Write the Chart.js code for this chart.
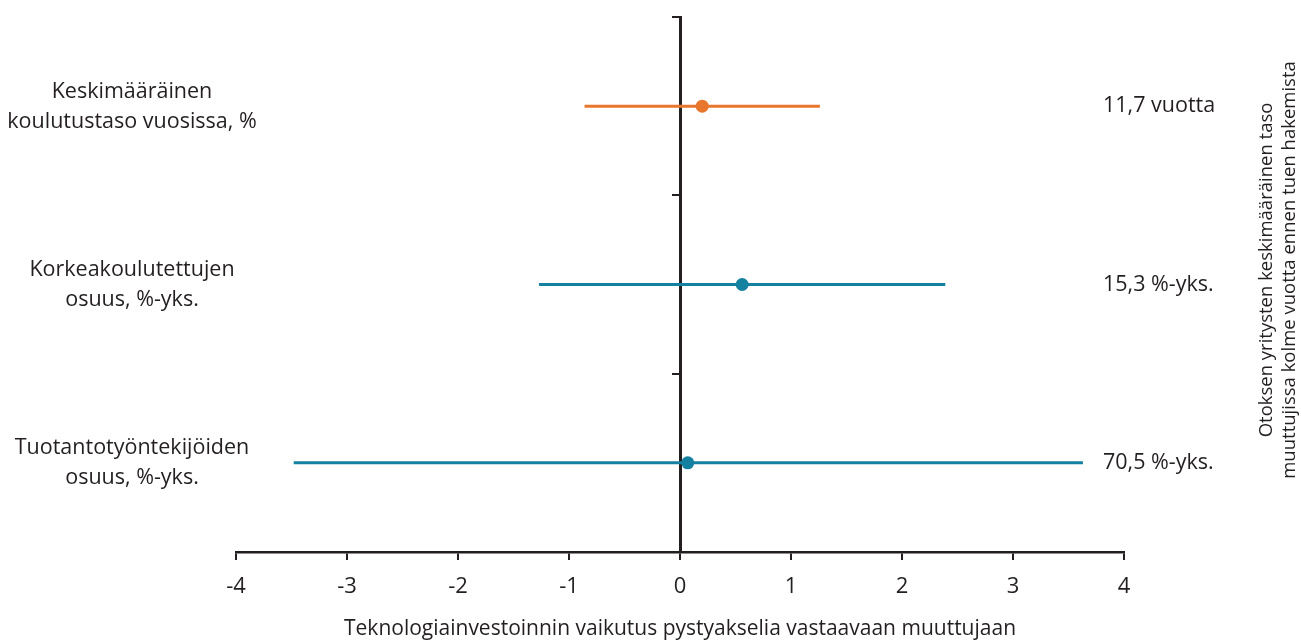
<!DOCTYPE html>
<html lang="fi">
<head>
  <meta charset="UTF-8">
  <title>Teknologiainvestoinnin vaikutus</title>
  <script src="https://cdn.jsdelivr.net/npm/chart.js"></script>
  <style>
    body { margin: 0; background: #fff; }
    .wrap { width: 1301px; height: 641px; position: relative; }
  </style>
</head>
<body>
<div class="wrap"><canvas id="kuva"></canvas></div>

<script>
// muuttujat ylhäältä alas
const categories = [
  ["Keskimääräinen", "koulutustaso vuosissa, %"],
  ["Korkeakoulutettujen", "osuus, %-yks."],
  ["Tuotantotyöntekijöiden", "osuus, %-yks."]
];
const estimates = [0.2, 0.56, 0.07];
const lowerBounds = [-0.86, -1.27, -3.48];
const upperBounds = [1.26, 2.39, 3.63];
const sampleMeans = ["11,7 vuotta", "15,3 %-yks.", "70,5 %-yks."];
const seriesColors = ["#E8772E", "#1481A1", "#1481A1"];
const xTicks = [-4, -3, -2, -1, 0, 1, 2, 3, 4];
const xTitle = "Teknologiainvestoinnin vaikutus pystyakselia vastaavaan muuttujaan";
const rightTitle = ["Otoksen yritysten keskimääräinen taso", "muuttujissa kolme vuotta ennen tuen hakemista"];

const ink = "#231f20";
const fontName = "'Open Sans', 'Liberation Sans', sans-serif";

// kategorian paikka pystyakselilla: ylin = 2.5, keskimmäinen = 1.5, alin = 0.5
const rowPos = i => categories.length - 0.5 - i;

const datasets = [{
  label: "estimaatti",
  data: estimates.map((v, i) => ({ x: v, y: rowPos(i) })),
  pointRadius: 6.5,
  pointHoverRadius: 6.5,
  pointBackgroundColor: seriesColors,
  pointBorderWidth: 0,
  showLine: false
}];
categories.forEach((c, i) => {
  datasets.push({
    label: "vali " + i,
    data: [{ x: lowerBounds[i], y: rowPos(i) }, { x: upperBounds[i], y: rowPos(i) }],
    showLine: true,
    borderColor: seriesColors[i],
    borderWidth: 3,
    pointRadius: 0
  });
});

const tekstit = {
  id: "tekstit",
  afterDraw(chart) {
    const ctx = chart.ctx;
    const y = chart.scales.y;
    ctx.save();
    ctx.fillStyle = ink;
    ctx.font = "21.5px " + fontName;
    ctx.textBaseline = "middle";
    categories.forEach((lines, i) => {
      const yc = y.getPixelForValue(rowPos(i));
      ctx.textAlign = "center";
      ctx.fillText(lines[0], 132, yc - 14.5);
      ctx.fillText(lines[1], 132, yc + 15.5);
      ctx.textAlign = "left";
      ctx.fillText(sampleMeans[i], 1103, yc);
    });
    // oikean reunan pystyotsikko
    ctx.font = "18.5px " + fontName;
    ctx.translate(1278, 270);
    ctx.rotate(-Math.PI / 2);
    ctx.textAlign = "center";
    ctx.fillText(rightTitle[0], 0, -11.5);
    ctx.fillText(rightTitle[1], 0, 11.5);
    ctx.restore();
  }
};

new Chart(document.getElementById("kuva"), {
  type: "scatter",
  data: { datasets: datasets },
  options: {
    responsive: true,
    maintainAspectRatio: false,
    animation: false,
    layout: { padding: { left: 236, right: 177, top: 17, bottom: 0 } },
    plugins: { legend: { display: false }, tooltip: { enabled: false } },
    scales: {
      x: {
        type: "linear",
        min: -4,
        max: 4,
        afterBuildTicks: s => { s.ticks = xTicks.map(v => ({ value: v })); },
        afterFit: s => { s.height = 89; },
        border: { color: ink, width: 2.5 },
        grid: { drawOnChartArea: false, drawTicks: true, tickLength: 8, color: ink, lineWidth: 2 },
        ticks: { color: ink, font: { family: fontName, size: 22 }, padding: 14, maxRotation: 0 },
        title: {
          display: true,
          text: xTitle,
          color: ink,
          font: { family: fontName, size: 21, lineHeight: 1.1 },
          padding: { top: 0, bottom: 0 }
        }
      },
      y: {
        type: "linear",
        min: 0,
        max: 3,
        position: { x: 0 },
        afterBuildTicks: s => { s.ticks = [0, 1, 2, 3].map(v => ({ value: v })); },
        border: { color: ink, width: 3 },
        grid: { drawOnChartArea: false, drawTicks: true, tickLength: 7, color: ink, lineWidth: 2 },
        ticks: { display: false }
      }
    }
  },
  plugins: [tekstit]
});
</script>
</body>
</html>
